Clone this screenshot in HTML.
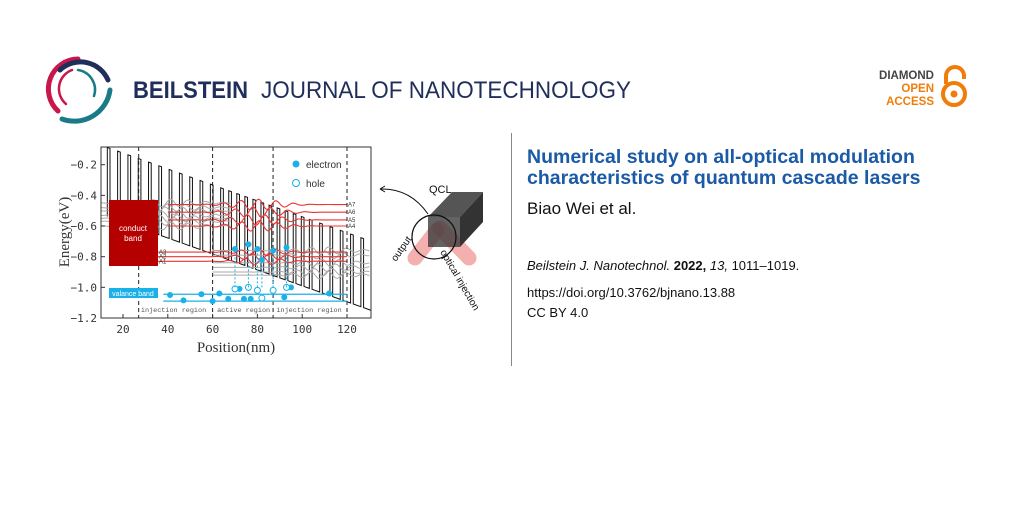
<!DOCTYPE html>
<html><head><meta charset="utf-8"><style>
body{margin:0;width:1024px;height:512px;background:#fff;overflow:hidden;position:relative;font-family:"Liberation Sans",sans-serif}
.a{position:absolute;white-space:nowrap}
</style></head><body>
<svg class="a" style="left:0;top:0" width="1024" height="512" id="s">
<g fill="none" stroke-linecap="round">
<path d="M58 111 A30 30 0 0 1 78 59" stroke="#c8174b" stroke-width="5"/>
<path d="M60 70 A30 30 0 0 1 108 80" stroke="#1f2e5a" stroke-width="5"/>
<path d="M110 90 A36 36 0 0 1 62 119" stroke="#1a7b86" stroke-width="5"/>
<path d="M66 104 A20 20 0 0 1 72 70" stroke="#c8174b" stroke-width="2.5"/>
<path d="M78 70 A20 20 0 0 1 94 96" stroke="#1a7b86" stroke-width="2.5"/>
</g>
<text x="133" y="98" font-size="24" font-weight="bold" fill="#1f2e5a" textLength="115" lengthAdjust="spacingAndGlyphs">BEILSTEIN</text>
<text x="261" y="98" font-size="24" fill="#1f2e5a" textLength="370" lengthAdjust="spacingAndGlyphs">JOURNAL OF NANOTECHNOLOGY</text>
<text x="934" y="79" font-size="11.5" font-weight="bold" fill="#444" text-anchor="end">DIAMOND</text>
<text x="934" y="92" font-size="11.5" font-weight="bold" fill="#f07d0a" text-anchor="end">OPEN</text>
<text x="934" y="105" font-size="11.5" font-weight="bold" fill="#f07d0a" text-anchor="end">ACCESS</text>
<path d="M946 84 V76 A9 9 0 0 1 964 76 V79" fill="none" stroke="#f07d0a" stroke-width="4"/>
<circle cx="954" cy="94" r="11" fill="none" stroke="#f07d0a" stroke-width="4"/>
<circle cx="954" cy="94" r="3.5" fill="#f07d0a"/>
<line x1="511.5" y1="133" x2="511.5" y2="366" stroke="#888" stroke-width="1"/>
<g id="chart"></g>
</svg>
<div class="a" style="left:527px;top:147px;font-size:19.5px;font-weight:bold;color:#1a5aa6;line-height:21px">Numerical study on all-optical modulation<br>characteristics of quantum cascade lasers</div>
<div class="a" style="left:527px;top:199px;font-size:17px;color:#111">Biao Wei et al.</div>
<div class="a" style="left:527px;top:258px;font-size:13px;color:#111"><i>Beilstein J. Nanotechnol.</i> <b>2022,</b> <i>13,</i> 1011–1019.</div>
<div class="a" style="left:527px;top:285px;font-size:13px;color:#111">https://doi.org/10.3762/bjnano.13.88</div>
<div class="a" style="left:527px;top:305px;font-size:13px;color:#111">CC BY 4.0</div>
<script>
var X=function(n){return 100.6+(n-10)*2.24};
var Y=function(e){return 318-(e+1.2)*153.3};
var h='';
h+='<defs><clipPath id="c"><rect x="101" y="147" width="270" height="171"/></clipPath></defs>';
h+='<g clip-path="url(#c)">';
var d='',x=13;
function Eb(x){return -0.02-0.0052*x} function Ew(x){return Eb(x)-0.45}
d='M'+X(x)+' '+Y(Ew(x));
while(x<128){var w=1.2;d+=' L'+X(x)+' '+Y(Eb(x))+' L'+X(x+w)+' '+Y(Eb(x+w))+' L'+X(x+w)+' '+Y(Ew(x+w));x+=(x>60&&x<100)?3.6:4.6;d+=' L'+X(x)+' '+Y(Ew(x));}
h+='<path d="'+d+'" fill="none" stroke="#111" stroke-width="1"/>';
function wav(x0,x1,e,amp,ph,col,sw,c,wd){var p='';for(var t=x0;t<=x1;t+=0.5){var a=amp*Math.sin(t*0.8+ph)*Math.exp(-Math.pow((t-c)/wd,2));p+=(t==x0?'M':'L')+X(t).toFixed(1)+' '+Y(e+a).toFixed(1);}return '<path d="'+p+'" fill="none" stroke="'+col+'" stroke-width="'+sw+'"/>';}
[-0.45,-0.48,-0.5,-0.53,-0.55,-0.57,-0.6].forEach(function(e,i){h+=wav(10,68,e,0.025,i,'#aaa',1,40,18)});
[-0.76,-0.79,-0.84,-0.87,-0.9,-0.92].forEach(function(e,i){h+=wav(60,130,e,0.025,i*1.3,'#aaa',1,110,15)});
[-0.46,-0.51,-0.56,-0.6].forEach(function(e,i){h+=wav(40,120,e,0.035,i*2,'#e33',1.1,80,14)});
[-0.77,-0.8,-0.83].forEach(function(e,i){h+=wav(35,120,e,0.025,i*2.3,'#e33',1.1,82,12)});
h+='</g>';
h+='<rect x="101" y="147" width="270" height="171" fill="none" stroke="#333"/>';
[27,60,87,120].forEach(function(n){h+='<line x1="'+X(n)+'" y1="147" x2="'+X(n)+'" y2="318" stroke="#222" stroke-dasharray="4,3"/>'});
for(var e=-0.2;e>=-1.21;e-=0.2){var yy=Y(e);h+='<line x1="101" y1="'+yy+'" x2="105" y2="'+yy+'" stroke="#333"/><text x="97" y="'+(yy+4)+'" font-size="11" fill="#333" text-anchor="end" font-family="DejaVu Sans Mono">'+e.toFixed(1).replace('-','−')+'</text>';}
for(var n=20;n<=120;n+=20){h+='<line x1="'+X(n)+'" y1="318" x2="'+X(n)+'" y2="314" stroke="#333"/><text x="'+X(n)+'" y="333" font-size="11" fill="#333" text-anchor="middle" font-family="DejaVu Sans Mono">'+n+'</text>';}
h+='<text x="236" y="352" font-size="15" fill="#333" text-anchor="middle" font-family="Liberation Serif">Position(nm)</text>';
h+='<text transform="translate(69,232) rotate(-90)" font-size="15" fill="#333" text-anchor="middle" font-family="Liberation Serif">Energy(eV)</text>';
h+='<rect x="109" y="200" width="49" height="66" fill="#b50000"/><text x="133" y="231" font-size="8" fill="#fff" text-anchor="middle">conduct</text><text x="133" y="241" font-size="8" fill="#fff" text-anchor="middle">band</text>';
h+='<rect x="109" y="288" width="49" height="10" fill="#1ab0e8"/><text x="133" y="296" font-size="7" fill="#fff" text-anchor="middle">valance band</text>';
h+='<path d="M'+X(38)+' '+Y(-1.045)+' L'+X(120)+' '+Y(-1.045)+' M'+X(38)+' '+Y(-1.09)+' L'+X(120)+' '+Y(-1.09)+'" stroke="#1ab0e8" stroke-width="1.3"/>';
[[41,-1.05],[47,-1.085],[55,-1.045],[60,-1.09],[63,-1.04],[67,-1.075],[72,-1.01],[74,-1.075],[77,-1.075],[92,-1.065],[95,-1.0],[112,-1.04]].forEach(function(p){h+='<circle cx="'+X(p[0])+'" cy="'+Y(p[1])+'" r="3" fill="#1ab0e8"/>'});
[[70,-1.01],[76,-1.0],[80,-1.02],[82,-1.07],[87,-1.02],[93,-1.0]].forEach(function(p){h+='<circle cx="'+X(p[0])+'" cy="'+Y(p[1])+'" r="3" fill="#fff" stroke="#1ab0e8"/>'});
[[70,-0.75],[76,-0.72],[80,-0.75],[82,-0.82],[87,-0.76],[93,-0.74]].forEach(function(p){h+='<line x1="'+X(p[0])+'" y1="'+Y(-1.0)+'" x2="'+X(p[0])+'" y2="'+Y(p[1])+'" stroke="#1ab0e8" stroke-dasharray="2,2"/><circle cx="'+X(p[0])+'" cy="'+Y(p[1])+'" r="3" fill="#1ab0e8"/>'});
h+='<text x="'+X(28)+'" y="312" font-size="6.8" fill="#555" font-family="Liberation Mono">injection region</text><text x="'+X(62)+'" y="312" font-size="6.8" fill="#555" font-family="Liberation Mono">active region</text><text x="'+X(88.5)+'" y="312" font-size="6.8" fill="#555" font-family="Liberation Mono">injection region</text>';
['A7','A6','A5','A4'].forEach(function(t,i){h+='<text x="'+(X(120)+1)+'" y="'+(Y([-0.46,-0.51,-0.56,-0.6][i])+2)+'" font-size="6" fill="#333">'+t+'</text>'});
['A3','A2','A1'].forEach(function(t,i){h+='<text x="159" y="'+(Y([-0.77,-0.8,-0.83][i])+2)+'" font-size="6" fill="#333">'+t+'</text>'});
h+='<circle cx="296" cy="164" r="3.5" fill="#1ab0e8"/><text x="306" y="168" font-size="10" fill="#333">electron</text>';
h+='<circle cx="296" cy="183" r="3.5" fill="#fff" stroke="#1ab0e8"/><text x="306" y="187" font-size="10" fill="#333">hole</text>';
h+='<g stroke-linecap="round" stroke="rgba(235,110,110,0.55)" stroke-width="15"><line x1="415" y1="258" x2="437" y2="230"/><line x1="440" y1="228" x2="469" y2="258"/></g>';
h+='<polygon points="428,217 460,217 483,192 452,192" fill="#555"/><polygon points="460,217 483,192 483,222 460,247" fill="#333"/><rect x="428" y="217" width="32" height="30" fill="rgba(60,60,60,0.8)"/>';
h+='<circle cx="434" cy="237" r="22" fill="none" stroke="#111" stroke-width="1.2"/>';
h+='<path d="M428 214 Q410 188 380 189" fill="none" stroke="#111"/><path d="M380 189 l5 -3 M380 189 l5 3" stroke="#111"/>';
h+='<text x="429" y="193" font-size="11" fill="#111">QCL</text>';
h+='<text transform="translate(396,262) rotate(-55)" font-size="10" fill="#111">output</text>';
h+='<text transform="translate(440,252) rotate(60)" font-size="10" fill="#111">optical injection</text>';
document.getElementById('chart').innerHTML=h;
</script>
</body></html>
